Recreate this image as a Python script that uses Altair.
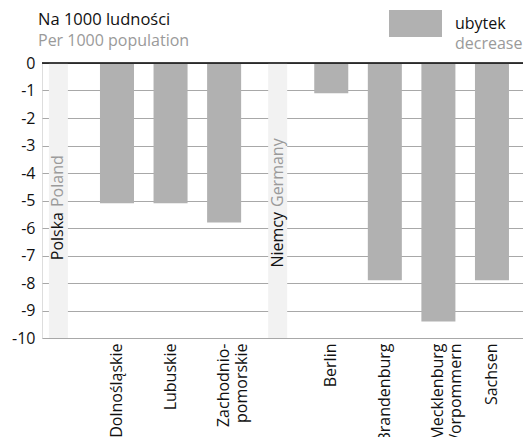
import altair as alt
import pandas as pd

# ---- data ----
categories = ["Polska", "Dolnośląskie", "Lubuskie", "Zachodnio-\npomorskie", "Niemcy",
              "Berlin", "Brandenburg", "Mecklenburg\nVorpommern", "Sachsen"]
regions = ["Dolnośląskie", "Lubuskie", "Zachodnio-\npomorskie",
           "Berlin", "Brandenburg", "Mecklenburg\nVorpommern", "Sachsen"]
values = [-5.1, -5.1, -5.8, -1.1, -7.9, -9.4, -7.9]
countries = ["Polska", "Niemcy"]
countries_en = ["Poland", "Germany"]
y_ticks = [0, -1, -2, -3, -4, -5, -6, -7, -8, -9, -10]
title_pl = "Na 1000 ludności"
title_en = "Per 1000 population"
legend_pl = "ubytek"
legend_en = "decrease"

FONT = "Open Sans"
BAR = "#b1b1b1"
STRIP = "#f2f2f2"
GRID = "#a8a8a8"
GRAY_TXT = "#9a9a9a"
W, H = 481, 275

bars_df = pd.DataFrame({"cat": regions, "val": values, "kind": [legend_pl] * len(regions)})
strip_df = pd.DataFrame({"cat": countries, "en": countries_en})

xscale = alt.Scale(domain=categories, paddingInner=0.365, paddingOuter=0.172,
                   align=0.239, round=False)
yscale = alt.Scale(domain=[-10, 0], nice=False, zero=False)

xaxis = alt.Axis(title=None, domain=False, ticks=False, grid=False, labelAngle=270,
                 labelAlign="right", labelBaseline="middle", labelPadding=5,
                 labelFont=FONT, labelFontSize=16, labelColor="#111", labelLineHeight=18,
                 labelOverlap=False,
                 labelExpr="datum.label == 'Polska' || datum.label == 'Niemcy' ? '' : split(datum.label, '\\n')")
yaxis = alt.Axis(title=None, domain=False, ticks=False, values=y_ticks, grid=True,
                 gridColor=GRID, gridWidth=1, labelPadding=7, labelFont=FONT,
                 labelFontSize=16, labelColor="#111", labelOverlap=False,
                 labelExpr="'' + datum.value")


def X():
    return alt.X("cat:N", scale=xscale, axis=xaxis, sort=categories)


bars = alt.Chart(bars_df).mark_bar(opacity=1).encode(
    x=X(),
    y=alt.Y("val:Q", scale=yscale, axis=yaxis),
    y2=alt.datum(0),
    color=alt.Color("kind:N", scale=alt.Scale(domain=[legend_pl], range=[BAR]),
                    legend=alt.Legend(title=None, orient="none", legendX=347, legendY=-66,
                                      symbolType="M-1,-0.51H1V0.51H-1Z", symbolSize=2809,
                                      symbolStrokeWidth=0, symbolOpacity=1, padding=0,
                                      labelFont=FONT, labelFontSize=16, labelColor="#111",
                                      labelOffset=13)),
)

offsets = {"Polska": -5, "Niemcy": 0}
strips, texts = [], []
for c in countries:
    sub = strip_df[strip_df["cat"] == c]
    strips.append(alt.Chart(sub).mark_bar(color=STRIP, width=19, xOffset=offsets[c]).encode(
        x=X(), y=alt.value(0), y2=alt.value(H)))
    texts.append(alt.Chart(sub).mark_text(angle=270, align="right", baseline="middle",
                                          font=FONT, fontSize=16, color="#111",
                                          xOffset=offsets[c]).encode(
        x=X(), y=alt.value(149), text="cat:N"))
    texts.append(alt.Chart(sub).mark_text(angle=270, align="left", baseline="middle",
                                          font=FONT, fontSize=16, color=GRAY_TXT,
                                          xOffset=offsets[c]).encode(
        x=X(), y=alt.value(144), text="en:N"))

zero = alt.Chart(pd.DataFrame({"v": [0]})).mark_rule(color="#000", strokeWidth=1.5).encode(
    y=alt.Y("v:Q", scale=yscale, axis=yaxis))

one = pd.DataFrame({"a": [0]})
titles = [
    alt.Chart(one).mark_text(text=title_pl, align="left", baseline="alphabetic", font=FONT,
                             fontSize=16.5, color="#111").encode(x=alt.value(-4), y=alt.value(-38)),
    alt.Chart(one).mark_text(text=title_en, align="left", baseline="alphabetic", font=FONT,
                             fontSize=16, color=GRAY_TXT).encode(x=alt.value(-4), y=alt.value(-17)),
    alt.Chart(one).mark_text(text=legend_en, align="left", baseline="alphabetic", font=FONT,
                             fontSize=16, color=GRAY_TXT).encode(x=alt.value(413), y=alt.value(-14)),
]

chart = alt.layer(*strips, bars, *texts, zero, *titles).properties(
    width=W, height=H,
    autosize=alt.AutoSizeParams(type="none"),
    padding={"left": 34, "top": 55, "right": 0, "bottom": 99},
).configure_view(stroke=None).configure(background="white")

chart.save("out.html", embed_options={"renderer": "svg", "actions": False})
